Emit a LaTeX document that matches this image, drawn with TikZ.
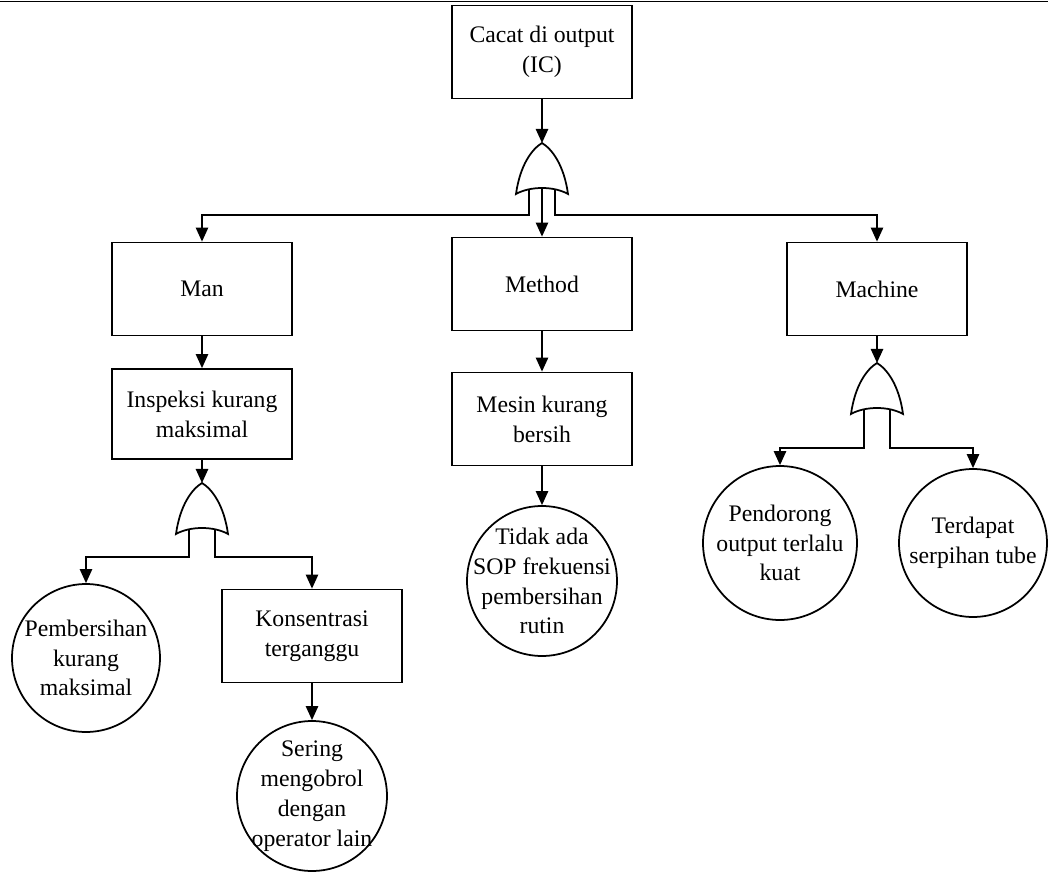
\documentclass[tikz,border=0pt]{standalone}
\usepackage{fontspec}
\setmainfont{Liberation Serif}
\usetikzlibrary{arrows.meta}

\tikzset{
  every node/.style={font=\fontsize{13.5}{17}\selectfont},
  box/.style={draw, line width=1pt, minimum width=3.6cm, minimum height=1.86cm, align=center, inner sep=2pt},
  event/.style={draw, circle, line width=1pt, minimum size=#1, inner sep=0pt},
  event/.default=3cm,
  evtext/.style={align=center, inner sep=0pt},
  arr/.style={line width=1pt, -{Triangle[length=8pt,width=7pt]}},
  orgate/.pic={
    \draw[line width=1pt, fill=white] (-26,51) .. controls (-22,22) and (-10,6) .. (0,0)
      .. controls (10,6) and (22,22) .. (26,51)
      .. controls (12,43) and (-12,43) .. cycle;
    \coordinate (-in) at (0,0);
    \coordinate (-l) at (-13,46);
    \coordinate (-r) at (13,46);
    \coordinate (-m) at (0,45);
  }
}

\begin{document}
\begin{tikzpicture}[x=0.02cm, y=-0.02cm]
  \useasboundingbox (0,0) rectangle (1048,872);
  \draw[line width=0.6pt] (0,1.5) -- (1048,1.5);

  % top event
  \node[box] (top) at (542,52) {Cacat di output\\(IC)};
  \pic (g1) at (542,143) {orgate};

  % categories
  \node[box] (man) at (202,289) {Man};
  \node[box] (method) at (542,284) {Method};
  \node[box] (machine) at (877,289) {Machine};

  % man branch
  \node[box, minimum height=1.8cm] (inspeksi) at (202,414) {Inspeksi kurang\\maksimal};
  \pic (g2) at (202,483) {orgate};
  \node[event=2.96cm, label={[evtext]center:Pembersihan\\kurang\\maksimal}] (pembersihan) at (86,658) {};
  \node[box] (konsentrasi) at (312,636) {Konsentrasi\\terganggu};
  \node[event, label={[evtext]center:Sering\\mengobrol\\dengan\\operator lain}] (sering) at (312,796) {};

  % method branch
  \node[box] (mesin) at (542,419) {Mesin kurang\\bersih};
  \node[event, label={[evtext]center:Tidak ada\\SOP frekuensi\\pembersihan\\rutin}] (tidak) at (542,581) {};

  % machine branch
  \pic (g3) at (877,363) {orgate};
  \node[event=3.08cm, label={[evtext]center:Pendorong\\output terlalu\\kuat}] (pendorong) at (780,543) {};
  \node[event=2.96cm, label={[evtext]center:Terdapat\\serpihan tube}] (terdapat) at (973,543) {};

  % connectors
  \draw[arr] (top) -- (g1-in);
  \draw[arr] (g1-m) -- (method);
  \draw[arr] (g1-l) -- ++(0,26) -| (man.north);
  \draw[arr] (g1-r) -- ++(0,26) -| (machine.north);

  \draw[arr] (man) -- (inspeksi);
  \draw[arr] (inspeksi) -- (g2-in);
  \draw[arr] (g2-l) -- ++(0,28) -| (pembersihan.north);
  \draw[arr] (g2-r) -- ++(0,28) -| (konsentrasi.north);
  \draw[arr] (konsentrasi) -- (sering);

  \draw[arr] (method) -- (mesin);
  \draw[arr] (mesin) -- (tidak);

  \draw[arr] (machine) -- (g3-in);
  \draw[arr] (g3-l) -- ++(0,39) -| (pendorong.north);
  \draw[arr] (g3-r) -- ++(0,39) -| (terdapat.north);
\end{tikzpicture}
\end{document}
